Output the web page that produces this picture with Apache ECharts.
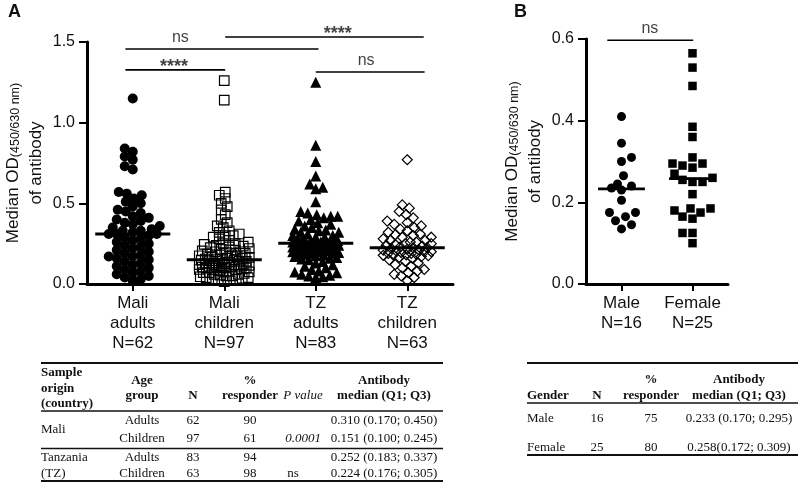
<!DOCTYPE html>
<html>
<head>
<meta charset="utf-8">
<title>Median OD of antibody by group</title>
<script src="https://cdn.jsdelivr.net/npm/echarts@6/dist/echarts.min.js"></script>
<style>
  html, body { margin: 0; padding: 0; background: #fff; }
  #chart { width: 800px; height: 484px; }
</style>
</head>
<body>
<div id="chart"></div>
<script>
// ---- panel A data ----
const groupsA = ['Mali\nadults\nN=62', 'Mali\nchildren\nN=97', 'TZ\nadults\nN=83', 'TZ\nchildren\nN=63'];
const maliAdults = [1.15, 0.84, 0.82, 0.79, 0.77, 0.73, 0.71,
  0.57, 0.56, 0.55, 0.53, 0.51, 0.50, 0.48, 0.46, 0.45,
  0.44, 0.42, 0.41, 0.40, 0.39, 0.38, 0.37, 0.36, 0.35, 0.34, 0.33, 0.33, 0.32, 0.31, 0.31,
  0.31, 0.30, 0.29, 0.28, 0.27, 0.26, 0.25, 0.24, 0.23, 0.22, 0.21, 0.20, 0.19, 0.18, 0.17, 0.17,
  0.16, 0.15, 0.14, 0.13, 0.12, 0.11, 0.10, 0.09, 0.08, 0.07, 0.06, 0.05, 0.04, 0.03, 0.02];
const maliChildren = [1.26, 1.14,
  0.57, 0.55, 0.53, 0.50, 0.48, 0.46, 0.43, 0.40, 0.38, 0.36, 0.35, 0.33, 0.32, 0.31, 0.30, 0.30, 0.29, 0.28, 0.27, 0.26, 0.25, 0.25, 0.245,
  0.24, 0.235, 0.23, 0.225, 0.22, 0.215, 0.21, 0.205, 0.20, 0.20, 0.195, 0.19, 0.185, 0.18, 0.18, 0.175, 0.17, 0.17, 0.165, 0.16, 0.16, 0.155, 0.155, 0.151,
  0.15, 0.148, 0.145, 0.14, 0.14, 0.135, 0.13, 0.13, 0.128, 0.125, 0.12, 0.12, 0.118, 0.115, 0.11, 0.11, 0.108, 0.105, 0.105, 0.10, 0.10, 0.10, 0.10, 0.10,
  0.095, 0.09, 0.09, 0.085, 0.08, 0.08, 0.075, 0.07, 0.07, 0.065, 0.06, 0.06, 0.055, 0.05, 0.05, 0.045, 0.04, 0.04, 0.035, 0.03, 0.03, 0.025, 0.02, 0.015];
const tzAdults = [1.25, 0.86, 0.76, 0.67, 0.62, 0.60, 0.59, 0.51,
  0.45, 0.44, 0.43, 0.42, 0.42, 0.41, 0.40, 0.39, 0.38, 0.37, 0.36, 0.35, 0.34,
  0.335, 0.33, 0.32, 0.32, 0.31, 0.30, 0.30, 0.29, 0.29, 0.28, 0.28, 0.27, 0.27, 0.26, 0.26, 0.26, 0.255, 0.255, 0.25, 0.25, 0.252,
  0.245, 0.24, 0.24, 0.235, 0.23, 0.23, 0.225, 0.22, 0.22, 0.215, 0.21, 0.21, 0.205, 0.20, 0.20, 0.195, 0.19, 0.19, 0.185, 0.185,
  0.18, 0.175, 0.17, 0.165, 0.16, 0.155, 0.15, 0.14, 0.13, 0.12, 0.11, 0.10, 0.09, 0.08, 0.075, 0.07, 0.06, 0.055, 0.05, 0.045, 0.04];
const tzChildren = [0.77, 0.49, 0.47, 0.45, 0.43, 0.41, 0.39, 0.38, 0.37, 0.36, 0.35, 0.34, 0.33, 0.32, 0.31, 0.305,
  0.30, 0.29, 0.29, 0.28, 0.27, 0.27, 0.26, 0.26, 0.25, 0.25, 0.245, 0.24, 0.235, 0.23, 0.225, 0.224,
  0.22, 0.215, 0.21, 0.21, 0.205, 0.20, 0.20, 0.195, 0.19, 0.19, 0.185, 0.18, 0.18, 0.178, 0.176,
  0.17, 0.165, 0.16, 0.15, 0.14, 0.13, 0.12, 0.11, 0.10, 0.09, 0.08, 0.07, 0.06, 0.05, 0.04, 0.02];
const mediansA = [0.310, 0.151, 0.252, 0.224];

// significance bars, x in axis units (group i centred at i + 0.5)
const sigAFrom = [0.42, 1.51, 0.42, 2.50];
const sigATo = [2.53, 3.68, 1.51, 3.69];
const sigAY = [1.457, 1.531, 1.327, 1.314];
const sigAText = ['ns', '****', '****', 'ns'];
const sigATextX = [1.02, 2.74, 0.95, 3.05];

// ---- panel B data ----
const groupsB = ['Male\nN=16', 'Female\nN=25'];
const male = [0.41, 0.345, 0.31, 0.30, 0.265, 0.245, 0.24, 0.235, 0.23, 0.205, 0.175, 0.175, 0.165, 0.155, 0.145, 0.135];
const female = [0.565, 0.53, 0.485, 0.385, 0.36, 0.31, 0.295, 0.295, 0.29, 0.285, 0.27, 0.26, 0.255,
  0.25, 0.25, 0.22, 0.185, 0.185, 0.18, 0.175, 0.165, 0.16, 0.125, 0.125, 0.10];
const mediansB = [0.233, 0.258];
const sigBFrom = [0.30];
const sigBTo = [1.51];
const sigBY = [0.597];
const sigBText = ['ns'];
const sigBTextX = [0.90];

// ---- tables ----
const tabAAge = ['Adults', 'Children', 'Adults', 'Children'];
const tabACountry = ['Mali', 'Tanzania\n(TZ)'];
const tabAN = ['62', '97', '83', '63'];
const tabAResp = ['90', '61', '94', '98'];
const tabAP = ['', '0.0001', '', 'ns'];
const tabAMedian = ['0.310 (0.170; 0.450)', '0.151 (0.100; 0.245)', '0.252 (0.183; 0.337)', '0.224 (0.176; 0.305)'];

const tabBGender = ['Male', 'Female'];
const tabBN = ['16', '25'];
const tabBResp = ['75', '80'];
const tabBMedian = ['0.233 (0.170; 0.295)', '0.258(0.172; 0.309)'];

// ---- layout ----
const SANS = "'Liberation Sans', Arial, sans-serif";
const SERIF = "'Liberation Serif', 'Times New Roman', serif";
const gA = { left: 87, top: 42, width: 366, height: 242 };
const gB = { left: 586, top: 39, width: 142, height: 245 };
const bandA = gA.width / 4, pxA = gA.height / 1.5;
const bandB = gB.width / 2, pxB = gB.height / 0.6;

// beeswarm: horizontal pixel offsets so that markers do not pile up
function swarm(values, pxPerUnit, gap, maxOff) {
  const idx = values.map((_, i) => i).sort((a, b) => values[a] - values[b]);
  const placed = [];
  const out = new Array(values.length);
  idx.forEach((i, n) => {
    const y = values[i] * pxPerUnit;
    let pick = null, best = 0, bestD = -1;
    for (let k = 0; k <= maxOff && pick === null; k++) {
      const cands = k === 0 ? [0] : (n % 2 ? [k, -k] : [-k, k]);
      for (const x of cands) {
        let dmin = Infinity;
        for (const p of placed) {
          const d = Math.hypot(x - p[0], y - p[1]);
          if (d < dmin) dmin = d;
        }
        if (dmin >= gap) { pick = x; break; }
        if (dmin > bestD) { bestD = dmin; best = x; }
      }
    }
    if (pick === null) pick = best;
    placed.push([pick, y]);
    out[i] = pick;
  });
  return out;
}

function yAxisStyle(grid, max, interval) {
  return {
    type: 'value', gridIndex: grid, min: 0, max: max, interval: interval,
    name: '{m|Median OD}{s|(450/630 nm)}\n{m|of antibody}',
    nameLocation: 'middle', nameRotate: 90, nameGap: 42,
    nameTextStyle: {
      color: '#111', fontFamily: SANS, fontSize: 17, lineHeight: 23,
      rich: {
        m: { fontSize: 17, fontFamily: SANS, color: '#111', lineHeight: 23, verticalAlign: 'bottom' },
        s: { fontSize: 12.5, fontFamily: SANS, color: '#111', lineHeight: 15, verticalAlign: 'bottom' }
      }
    },
    axisLine: { show: true, lineStyle: { color: '#000', width: 3 } },
    axisTick: { show: true, length: 8, lineStyle: { color: '#000', width: 2 } },
    axisLabel: { margin: 12, fontSize: 16, color: '#111', fontFamily: SANS, formatter: v => v.toFixed(1) },
    splitLine: { show: false }
  };
}

function catAxis(grid, cats) {
  return {
    type: 'category', gridIndex: grid, data: cats,
    axisLine: { show: true, lineStyle: { color: '#000', width: 3 } },
    axisTick: { show: true, alignWithLabel: true, length: 7, lineStyle: { color: '#000', width: 2 } },
    axisLabel: { interval: 0, margin: 9, fontSize: 17, lineHeight: 20, color: '#111', fontFamily: SANS }
  };
}

const series = [];

function addGroups(groups, medians, marks, xIdx, yIdx, band, px, halfMed, medW) {
  groups.forEach((vals, g) => {
    const mk = marks[g];
    const offs = swarm(vals, px, mk.gap, mk.maxOff);
    const c = g + 0.5;
    series.push({
      type: 'scatter', xAxisIndex: xIdx, yAxisIndex: yIdx, silent: true,
      symbol: mk.symbol, symbolSize: mk.size,
      itemStyle: mk.fill
        ? { color: '#000', opacity: 1 }
        : { color: 'rgba(255,255,255,0)', borderColor: '#000', borderWidth: 1.2, opacity: 1 },
      data: vals.map((v, i) => [c + offs[i] / band, v])
    });
    series.push({
      type: 'line', xAxisIndex: xIdx, yAxisIndex: yIdx, silent: true, symbol: 'none', z: 5,
      lineStyle: { color: '#000', width: medW },
      data: [[c - halfMed, medians[g]], [c + halfMed, medians[g]]]
    });
  });
}

function addSig(from, to, ys, texts, textX, xIdx, yIdx) {
  from.forEach((f, i) => {
    const stars = texts[i] !== 'ns';
    series.push({
      type: 'line', xAxisIndex: xIdx, yAxisIndex: yIdx, silent: true, symbol: 'none', clip: false,
      lineStyle: { color: '#000', width: 1.6 },
      data: [[f, ys[i]], [to[i], ys[i]]]
    });
    series.push({
      type: 'scatter', xAxisIndex: xIdx, yAxisIndex: yIdx, silent: true, clip: false,
      symbolSize: 1, itemStyle: { color: 'rgba(0,0,0,0)' },
      label: {
        show: true, position: 'top', formatter: texts[i],
        distance: stars ? -7 : 3,
        fontSize: stars ? 18 : 16, fontFamily: SANS, color: '#111',
        fontWeight: stars ? 'bold' : 'normal'
      },
      data: [[textX[i], ys[i]]]
    });
  });
}

addGroups([maliAdults, maliChildren, tzAdults, tzChildren], mediansA, [
  { symbol: 'circle', size: 10, fill: true, gap: 8, maxOff: 28 },
  { symbol: 'rect', size: 9.5, fill: false, gap: 6, maxOff: 25 },
  { symbol: 'triangle', size: 11, fill: true, gap: 7, maxOff: 23 },
  { symbol: 'diamond', size: 10, fill: false, gap: 7, maxOff: 24 }
], 1, 0, bandA, pxA, 0.41, 3);
addGroups([male, female], mediansB, [
  { symbol: 'circle', size: 9, fill: true, gap: 10, maxOff: 16 },
  { symbol: 'rect', size: 8.5, fill: true, gap: 10, maxOff: 20 }
], 3, 1, bandB, pxB, 0.33, 2.6);
addSig(sigAFrom, sigATo, sigAY, sigAText, sigATextX, 1, 0);
addSig(sigBFrom, sigBTo, sigBY, sigBText, sigBTextX, 3, 1);

// ---- table graphics ----
const graphic = [];
function txt(x, y, text, font, align) {
  graphic.push({
    type: 'text', silent: true,
    style: { x: x, y: y, text: text, font: font, fill: '#111', lineHeight: 16,
      align: align, verticalAlign: 'middle', textAlign: align, textVerticalAlign: 'middle' }
  });
}
function rule(x1, x2, y, w) {
  graphic.push({ type: 'line', silent: true, shape: { x1: x1, y1: y, x2: x2, y2: y }, style: { stroke: '#111', lineWidth: w } });
}
const fB = 'bold 13px ' + SERIF, fN = '13px ' + SERIF, fI = 'italic 13px ' + SERIF;

txt(8, 12, 'A', 'bold 18px ' + SANS, 'left');
txt(514, 12, 'B', 'bold 18px ' + SANS, 'left');

// table A
rule(41, 443, 363, 2);
txt(41, 373, 'Sample', fB, 'left');
txt(41, 388.5, 'origin', fB, 'left');
txt(41, 404, '(country)', fB, 'left');
txt(142, 380.5, 'Age', fB, 'center');
txt(142, 396, 'group', fB, 'center');
txt(193, 396, 'N', fB, 'center');
txt(250, 380.5, '%', fB, 'center');
txt(250, 396, 'responder', fB, 'center');
txt(303, 396, 'P value', fI, 'center');
txt(384, 380.5, 'Antibody', fB, 'center');
txt(384, 396, 'median (Q1; Q3)', fB, 'center');
rule(41, 443, 411, 1.3);
const rowYA = [421, 439, 458, 474];
tabACountry.forEach((c, i) => txt(41, (rowYA[2 * i] + rowYA[2 * i + 1]) / 2, c, fN, 'left'));
tabAAge.forEach((a, i) => {
  txt(142, rowYA[i], a, fN, 'center');
  txt(193, rowYA[i], tabAN[i], fN, 'center');
  txt(250, rowYA[i], tabAResp[i], fN, 'center');
  if (tabAP[i]) txt(tabAP[i] === 'ns' ? 293 : 303, rowYA[i], tabAP[i], tabAP[i] === 'ns' ? fN : fI, 'center');
  txt(384, rowYA[i], tabAMedian[i], fN, 'center');
});
rule(41, 443, 448.5, 1.3);
rule(41, 443, 481, 2);

// table B
rule(527, 798, 363, 2);
txt(651, 379.5, '%', fB, 'center');
txt(739, 379.5, 'Antibody', fB, 'center');
txt(527, 396, 'Gender', fB, 'left');
txt(597, 396, 'N', fB, 'center');
txt(651, 396, 'responder', fB, 'center');
txt(739, 396, 'median (Q1; Q3)', fB, 'center');
rule(527, 798, 403, 1.3);
const rowYB = [419, 448];
tabBGender.forEach((g, i) => {
  txt(527, rowYB[i], g, fN, 'left');
  txt(597, rowYB[i], tabBN[i], fN, 'center');
  txt(651, rowYB[i], tabBResp[i], fN, 'center');
  txt(739, rowYB[i], tabBMedian[i], fN, 'center');
});
rule(527, 798, 455, 2);

const chart = echarts.init(document.getElementById('chart'));
chart.setOption({
  animation: false,
  backgroundColor: '#fff',
  textStyle: { fontFamily: SANS },
  grid: [
    Object.assign({ containLabel: false, outerBoundsMode: 'none' }, gA),
    Object.assign({ containLabel: false, outerBoundsMode: 'none' }, gB)
  ],
  xAxis: [
    catAxis(0, groupsA),
    { type: 'value', gridIndex: 0, min: 0, max: 4, show: false },
    catAxis(1, groupsB),
    { type: 'value', gridIndex: 1, min: 0, max: 2, show: false }
  ],
  yAxis: [yAxisStyle(0, 1.5, 0.5), yAxisStyle(1, 0.6, 0.2)],
  series: series,
  graphic: graphic
});
</script>
</body>
</html>
